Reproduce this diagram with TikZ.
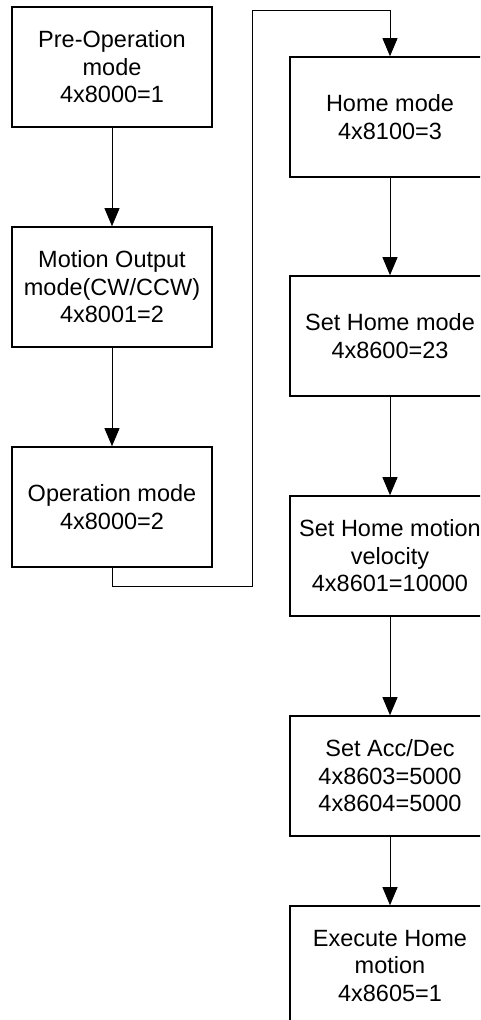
\documentclass[tikz,border=0pt]{standalone}
\usepackage{fontspec}
\setmainfont{Liberation Sans}
\usetikzlibrary{arrows.meta}
\begin{document}
\begin{tikzpicture}[x=1pt,y=-1pt,
  stepbox/.style={draw=black,line width=1.6pt,minimum width=200pt,minimum height=120pt,
    inner sep=0pt,align=center,font=\fontsize{23.5}{27.5}\selectfont},
  flow/.style={draw=black,line width=0.9pt,-{Triangle[length=18pt,width=15pt]}}]
\useasboundingbox (0,0) rectangle (480,1020);
\clip (0,0) rectangle (480,1020);
% left column
\node[stepbox] (pre) at (112,67) {Pre-Operation\\mode\\4x8000=1};
\node[stepbox] (mot) at (112,287) {Motion Output\\mode(CW/CCW)\\4x8001=2};
\node[stepbox] (op)  at (112,507) {Operation mode\\4x8000=2};
% right column
\node[stepbox] (home) at (390,117) {Home mode\\4x8100=3};
\node[stepbox] (shm)  at (390,336) {Set Home mode\\4x8600=23};
\node[stepbox] (vel)  at (390,556) {Set Home motion\\velocity\\4x8601=10000};
\node[stepbox] (acc)  at (390,776) {Set Acc/Dec\\4x8603=5000\\4x8604=5000};
\node[stepbox] (exe)  at (390,966) {Execute Home\\motion\\4x8605=1};
% route from the left column to the right one
\coordinate (j1) at (252,586);
\coordinate (j2) at (252,10);
% connectors
\draw[flow] (pre) -- (mot);
\draw[flow] (mot) -- (op);
\draw[flow] (op.south) |- (j1) -- (j2) -| (home.north);
\draw[flow] (home) -- (shm);
\draw[flow] (shm) -- (vel);
\draw[flow] (vel) -- (acc);
\draw[flow] (acc) -- (exe);
\end{tikzpicture}
\end{document}
